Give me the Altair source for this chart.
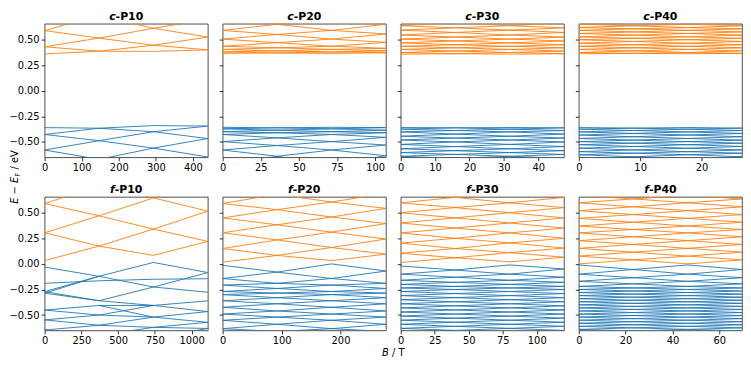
import altair as alt
import pandas as pd

# ---------------- panel metadata ----------------
panel_prefix = ["c", "c", "c", "c", "f", "f", "f", "f"]
panel_suffix = ["-P10", "-P20", "-P30", "-P40", "-P10", "-P20", "-P30", "-P40"]
b_max = [440, 107, 47.5, 26.6, 1110, 277, 120, 69.7]
x_ticks = [
    [0, 100, 200, 300, 400], [0, 25, 50, 75, 100], [0, 10, 20, 30, 40], [0, 10, 20],
    [0, 250, 500, 750, 1000], [0, 100, 200], [0, 25, 50, 75, 100], [0, 20, 40, 60],
]
y_ticks = [-0.5, -0.25, 0.0, 0.25, 0.5]
y_domain = [-0.65, 0.655]

# ---------------- level nodes at B = 0, Bmax/3, 2Bmax/3, Bmax (eV) ----------------
cP10_cond = [[0.36, 0.43, 0.588], [0.387, 0.515, 0.74], [0.385, 0.445, 0.61], [0.40, 0.525, 0.70]]
cP10_val = [[-0.579, -0.427, -0.36], [-0.67, -0.488, -0.366], [-0.56, -0.40, -0.34], [-0.647, -0.467, -0.345]]

cP20_cond = [[0.365, 0.38, 0.404, 0.435, 0.505, 0.59, 0.70], [0.37, 0.39, 0.42, 0.47, 0.55, 0.65],
             [0.365, 0.38, 0.404, 0.435, 0.505, 0.59, 0.70], [0.372, 0.39, 0.415, 0.473, 0.555, 0.65]]
cP20_val = [[-0.72, -0.579, -0.497, -0.427, -0.40, -0.372, -0.357], [-0.64, -0.535, -0.46, -0.41, -0.385, -0.362],
            [-0.72, -0.579, -0.497, -0.427, -0.40, -0.372, -0.357], [-0.635, -0.53, -0.455, -0.41, -0.385, -0.36]]

cP30_cond = [[0.358, 0.374, 0.404, 0.435, 0.468, 0.505, 0.545, 0.593, 0.636, 0.69],
             [0.362, 0.388, 0.42, 0.45, 0.487, 0.525, 0.57, 0.615, 0.665],
             [0.358, 0.374, 0.404, 0.435, 0.468, 0.505, 0.545, 0.593, 0.636, 0.69],
             [0.362, 0.388, 0.42, 0.45, 0.487, 0.525, 0.57, 0.615, 0.665]]
cP30_val = [[-0.68, -0.640, -0.604, -0.567, -0.524, -0.481, -0.444, -0.402, -0.375, -0.359],
            [-0.66, -0.622, -0.585, -0.545, -0.50, -0.462, -0.423, -0.388, -0.362],
            [-0.68, -0.640, -0.604, -0.567, -0.524, -0.481, -0.444, -0.402, -0.375, -0.359],
            [-0.66, -0.622, -0.585, -0.545, -0.50, -0.462, -0.423, -0.388, -0.362]]

cP40_cond = [[0.362, 0.374, 0.404, 0.435, 0.465, 0.499, 0.527, 0.56, 0.591, 0.618, 0.65, 0.68],
             [0.366, 0.39, 0.42, 0.45, 0.482, 0.513, 0.544, 0.575, 0.605, 0.635, 0.665],
             [0.362, 0.374, 0.404, 0.435, 0.465, 0.499, 0.527, 0.56, 0.591, 0.618, 0.65, 0.68],
             [0.366, 0.39, 0.42, 0.45, 0.482, 0.513, 0.544, 0.575, 0.605, 0.635, 0.665]]
cP40_val = [[-0.66, -0.625, -0.595, -0.561, -0.527, -0.497, -0.466, -0.432, -0.402, -0.375, -0.359],
            [-0.645, -0.61, -0.578, -0.544, -0.512, -0.482, -0.449, -0.417, -0.388, -0.365],
            [-0.66, -0.625, -0.595, -0.561, -0.527, -0.497, -0.466, -0.432, -0.402, -0.375, -0.359],
            [-0.645, -0.61, -0.578, -0.544, -0.512, -0.482, -0.449, -0.417, -0.388, -0.365]]

fP10_cond = [[0.032, 0.304, 0.59], [0.174, 0.47, 0.76], [0.083, 0.34, 0.645], [0.22, 0.515, 0.80]]
fP10_val = [[-0.75, -0.646, -0.547, -0.451, -0.286, -0.271, -0.031], [-0.70, -0.60, -0.50, -0.406, -0.36, -0.121],
            [-0.72, -0.62, -0.52, -0.406, -0.226, 0.014], [-0.631, -0.571, -0.466, -0.361, -0.277, -0.085]]
fP10_val_flat = [-0.19, -0.165, -0.150, -0.145]

fP20_cond = [[0.017, 0.15, 0.304, 0.449, 0.59, 0.74], [0.083, 0.234, 0.382, 0.53, 0.68],
             [0.032, 0.16, 0.31, 0.458, 0.605, 0.76], [0.095, 0.243, 0.394, 0.542, 0.69]]
fP20_val = [[-0.70, -0.633, -0.551, -0.49, -0.424, -0.36, -0.30, -0.27, -0.207, -0.143, -0.014],
            [-0.66, -0.59, -0.52, -0.46, -0.39, -0.33, -0.285, -0.24, -0.19, -0.08],
            [-0.70, -0.633, -0.551, -0.49, -0.424, -0.36, -0.30, -0.27, -0.207, -0.143, 0.0],
            [-0.66, -0.59, -0.52, -0.46, -0.39, -0.33, -0.285, -0.24, -0.19, -0.07]]

fP30_cond = [[0.013, 0.104, 0.203, 0.303, 0.40, 0.50, 0.597, 0.70], [0.06, 0.15, 0.25, 0.35, 0.45, 0.55, 0.65],
             [0.02, 0.11, 0.205, 0.303, 0.40, 0.50, 0.597, 0.70], [0.065, 0.155, 0.25, 0.35, 0.45, 0.55, 0.65]]
fP30_val = [[-0.67, -0.63, -0.59, -0.55, -0.51, -0.47, -0.43, -0.39, -0.35, -0.31, -0.27, -0.235, -0.20, -0.16, -0.10, -0.02],
            [-0.65, -0.61, -0.57, -0.53, -0.49, -0.45, -0.41, -0.37, -0.33, -0.29, -0.25, -0.22, -0.18, -0.13, -0.06],
            [-0.67, -0.63, -0.59, -0.55, -0.51, -0.47, -0.43, -0.39, -0.35, -0.31, -0.27, -0.235, -0.20, -0.16, -0.10, -0.01],
            [-0.65, -0.61, -0.57, -0.53, -0.49, -0.45, -0.41, -0.37, -0.33, -0.29, -0.25, -0.22, -0.18, -0.13, -0.05]]

fP40_cond = [[0.0, 0.076, 0.152, 0.227, 0.303, 0.37, 0.445, 0.52, 0.597, 0.67],
             [0.04, 0.114, 0.19, 0.265, 0.336, 0.407, 0.482, 0.558, 0.635],
             [0.0, 0.076, 0.152, 0.227, 0.303, 0.37, 0.445, 0.52, 0.597, 0.67],
             [0.04, 0.114, 0.19, 0.265, 0.336, 0.407, 0.482, 0.558, 0.635]]
fP40_val = [[-0.67, -0.64, -0.61, -0.58, -0.55, -0.52, -0.49, -0.46, -0.43, -0.40, -0.37, -0.34, -0.31, -0.28, -0.25, -0.22, -0.17, -0.10, -0.01],
            [-0.655, -0.625, -0.595, -0.565, -0.535, -0.505, -0.475, -0.445, -0.415, -0.385, -0.355, -0.325, -0.295, -0.265, -0.235, -0.195, -0.135, -0.055],
            [-0.67, -0.64, -0.61, -0.58, -0.55, -0.52, -0.49, -0.46, -0.43, -0.40, -0.37, -0.34, -0.31, -0.28, -0.25, -0.22, -0.17, -0.10, -0.01],
            [-0.655, -0.625, -0.595, -0.565, -0.535, -0.505, -0.475, -0.445, -0.415, -0.385, -0.355, -0.325, -0.295, -0.265, -0.235, -0.195, -0.135, -0.055]]

cond_nodes = [cP10_cond, cP20_cond, cP30_cond, cP40_cond, fP10_cond, fP20_cond, fP30_cond, fP40_cond]
val_nodes = [cP10_val, cP20_val, cP30_val, cP40_val, fP10_val, fP20_val, fP30_val, fP40_val]
extra_val_lines = {4: [fP10_val_flat]}

# ---------------- style ----------------
ORANGE = "#ff7f0e"
BLUE = "#1f77b4"
FONT = "DejaVu Sans"
W, H = 165, 135
HSPACE, VSPACE = 15, 40


def lattice_segments(cols, bmax, band):
    rows = []
    n = len(cols) - 1
    for k in range(n):
        xa, xb = bmax * k / n, bmax * (k + 1) / n
        nxt = sorted(cols[k + 1])
        for v in cols[k]:
            up = [w for w in nxt if w >= v]
            dn = [w for w in nxt if w < v]
            if up:
                rows.append({"x": xa, "y": v, "x2": xb, "y2": min(up), "band": band})
            if dn:
                rows.append({"x": xa, "y": v, "x2": xb, "y2": max(dn), "band": band})
    return rows


def line_segments(vals, bmax, band):
    n = len(vals) - 1
    return [{"x": bmax * k / n, "y": vals[k], "x2": bmax * (k + 1) / n, "y2": vals[k + 1], "band": band}
            for k in range(n)]


def text_layer(txt, x, y, size=11, weight="bold", style="normal", angle=0, align="left"):
    return alt.Chart(pd.DataFrame({"t": [txt]})).mark_text(
        font=FONT, fontSize=size, fontWeight=weight, fontStyle=style, angle=angle,
        align=align, baseline="alphabetic", color="black", clip=False,
    ).encode(x=alt.value(x), y=alt.value(y), text="t:N")


PREFIX_W = {"c": 0.593 * 11, "f": 0.435 * 11}
SUFFIX_W = 2.54 * 11


def make_panel(i):
    row, col = divmod(i, 4)
    rows = lattice_segments(cond_nodes[i], b_max[i], "cond") + lattice_segments(val_nodes[i], b_max[i], "val")
    for ln in extra_val_lines.get(i, []):
        rows += line_segments(ln, b_max[i], "val")
    df = pd.DataFrame(rows)
    lines = alt.Chart(df).mark_rule(clip=True, strokeWidth=1.0, opacity=0.9).encode(
        x=alt.X("x:Q", scale=alt.Scale(domain=[0, b_max[i]], nice=False, zero=False),
                axis=alt.Axis(values=x_ticks[i], format="d", title=None, labelFlush=False)),
        x2="x2:Q",
        y=alt.Y("y:Q", scale=alt.Scale(domain=y_domain, nice=False, zero=False),
                axis=alt.Axis(values=y_ticks, format=".2f", labels=(col == 0), title=None)),
        y2="y2:Q",
        color=alt.Color("band:N", scale=alt.Scale(domain=["cond", "val"], range=[ORANGE, BLUE]), legend=None),
    )
    pw = PREFIX_W[panel_prefix[i]]
    x0 = W / 2 - (pw + SUFFIX_W) / 2
    layers = [lines,
              text_layer(panel_prefix[i], x0, -4, style="italic"),
              text_layer(panel_suffix[i], x0 + pw, -4)]
    if i == 4:
        # shared y-axis title: E - E_F / eV (rotated)
        yc = -VSPACE / 2
        y0 = yc + 27
        layers += [
            text_layer("E", -27, y0, size=10, weight="normal", style="italic", angle=270),
            text_layer("\u2212", -27, y0 - 6.3 - 3.2, size=10, weight="normal", angle=270),
            text_layer("E", -27, y0 - 21.1, size=10, weight="normal", style="italic", angle=270),
            text_layer("F", -24.8, y0 - 27.4, size=7, weight="normal", angle=270),
            text_layer("/ eV", -27, y0 - 34.6, size=10, weight="normal", angle=270),
        ]
    if i == 5:
        # shared x-axis title: B / T
        xc = (4 * W + 3 * HSPACE) / 2 - (W + HSPACE)
        xs = xc - 11.4
        layers += [
            text_layer("B", xs, H + 26, size=10, weight="normal", style="italic"),
            text_layer("/ T", xs + 6.9 + 3.2, H + 26, size=10, weight="normal"),
        ]
    return alt.layer(*layers).properties(width=W, height=H)


chart = alt.concat(*[make_panel(i) for i in range(8)], columns=4,
                   spacing={"row": VSPACE, "column": HSPACE}, bounds="flush").configure_axis(
    domain=False, grid=False, tickSize=3.5, tickWidth=0.8, tickColor="black",
    labelFont=FONT, labelFontSize=10, labelColor="black", labelPadding=2,
).configure_view(stroke="#222222", strokeWidth=0.8).properties(padding=0)

chart.save("out.html", embed_options={"renderer": "svg", "actions": False})
